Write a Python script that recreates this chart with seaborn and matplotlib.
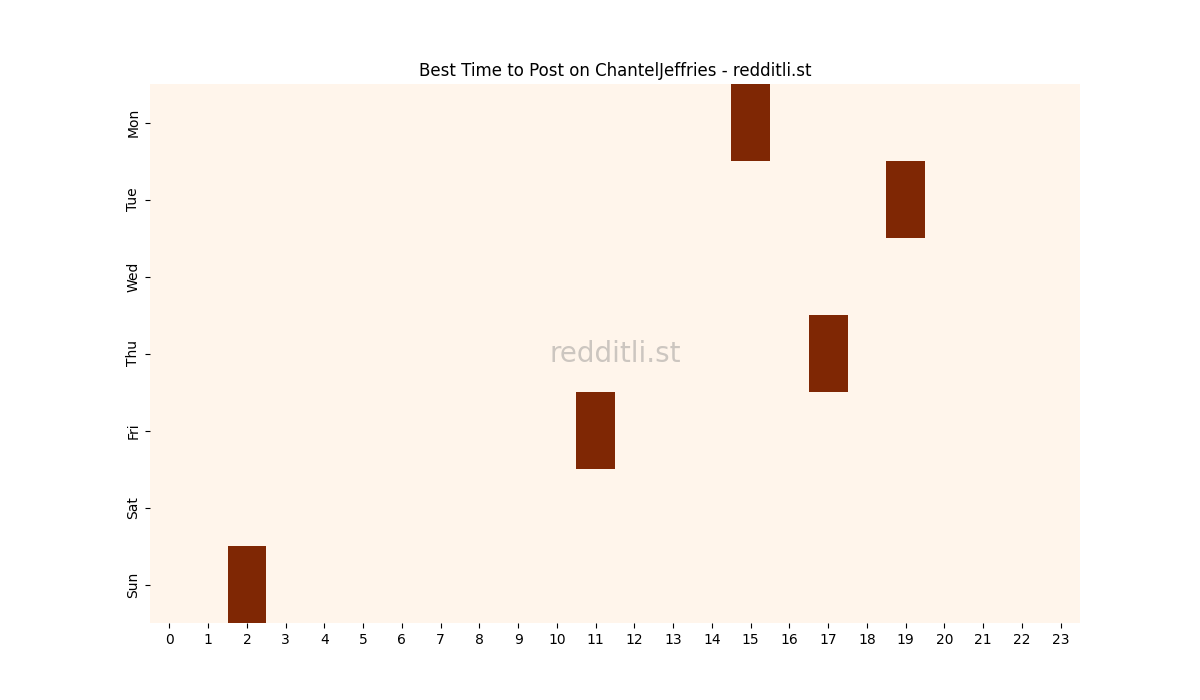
import matplotlib
matplotlib.use("Agg")
import matplotlib.pyplot as plt
import numpy as np
import pandas as pd
import seaborn as sns

days = ["Mon", "Tue", "Wed", "Thu", "Fri", "Sat", "Sun"]
hours = list(range(24))
# (day, hour) slots marked as best time
best_days = ["Mon", "Tue", "Thu", "Fri", "Sun"]
best_hours = [15, 19, 17, 11, 2]

grid = pd.DataFrame(0, index=days, columns=hours)
for d, h in zip(best_days, best_hours):
    grid.loc[d, h] = 1

fig, ax = plt.subplots(figsize=(12, 7), dpi=100)
sns.heatmap(grid, cmap="Oranges", cbar=False, ax=ax)
ax.set_title("Best Time to Post on ChantelJeffries - redditli.st")
ax.text(0.5, 0.5, "redditli.st", transform=ax.transAxes, ha="center", va="center",
        fontsize=20, color="grey", alpha=0.4)
plt.savefig("out.png", dpi=100)
